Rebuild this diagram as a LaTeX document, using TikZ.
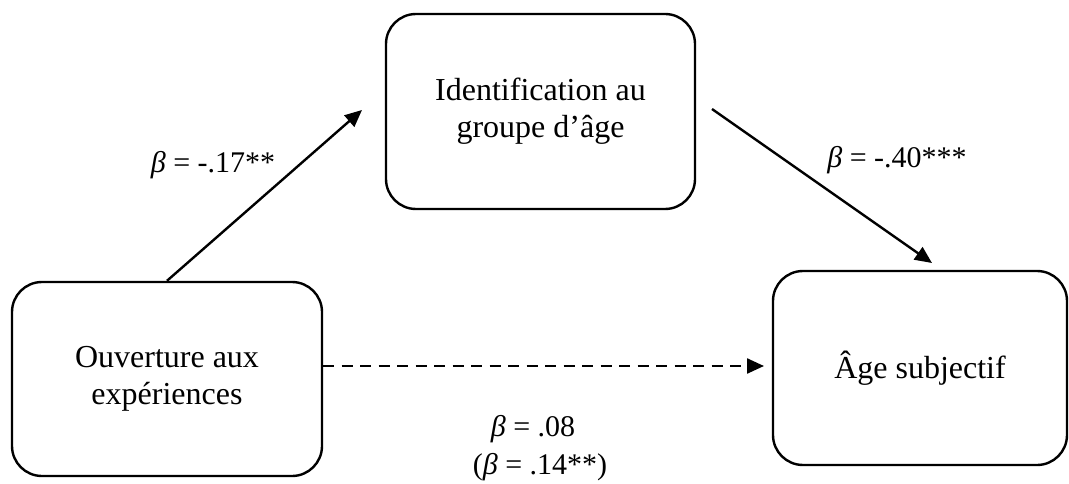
\documentclass[tikz,border=0pt]{standalone}
\usepackage{fontspec}
\setmainfont{Liberation Serif}
\usetikzlibrary{arrows.meta}
\begin{document}
\begin{tikzpicture}[x=1pt,y=-1pt,
  varbox/.style={draw=black, line width=2.4pt, rounded corners=30pt, rectangle,
    align=center, font=\fontsize{32}{37}\selectfont, inner sep=0pt},
  lbl/.style={font=\fontsize{30}{36}\selectfont, inner sep=0pt, align=center},
  arr/.style={line width=2.4pt, -{Triangle[length=17pt,width=15pt]}},
  darr/.style={arr, dash pattern=on 11pt off 7.5pt}]
\useasboundingbox (0,0) rectangle (1069,484);
\node[varbox, minimum width=310pt, minimum height=194pt] (b1) at (167,379) {Ouverture aux\\expériences};
\node[varbox, minimum width=309pt, minimum height=195pt] (b2) at (540.5,111.5) {Identification au\\groupe d’âge};
\node[varbox, minimum width=294pt, minimum height=194pt] (b3) at (920,368) {Âge subjectif};
\coordinate (e1) at (362,110);
\coordinate (s2) at (712,109);
\coordinate (e2) at (932,263);
\coordinate (e3) at (764,366);
\draw[arr] (b1.north) -- (e1);
\draw[arr] (s2) -- (e2);
\draw[darr] (b1.east |- e3) -- (e3);
\node[lbl] (l1) at (213,165) {{\itshape β} = -.17**};
\node[lbl] (l2) at (897,160) {{\itshape β} = -.40***};
\node[lbl] (l3) at (533,429) {{\itshape β} = .08};
\node[lbl] (l4) at (540,467) {({\itshape β} = .14**)};
\end{tikzpicture}
\end{document}
